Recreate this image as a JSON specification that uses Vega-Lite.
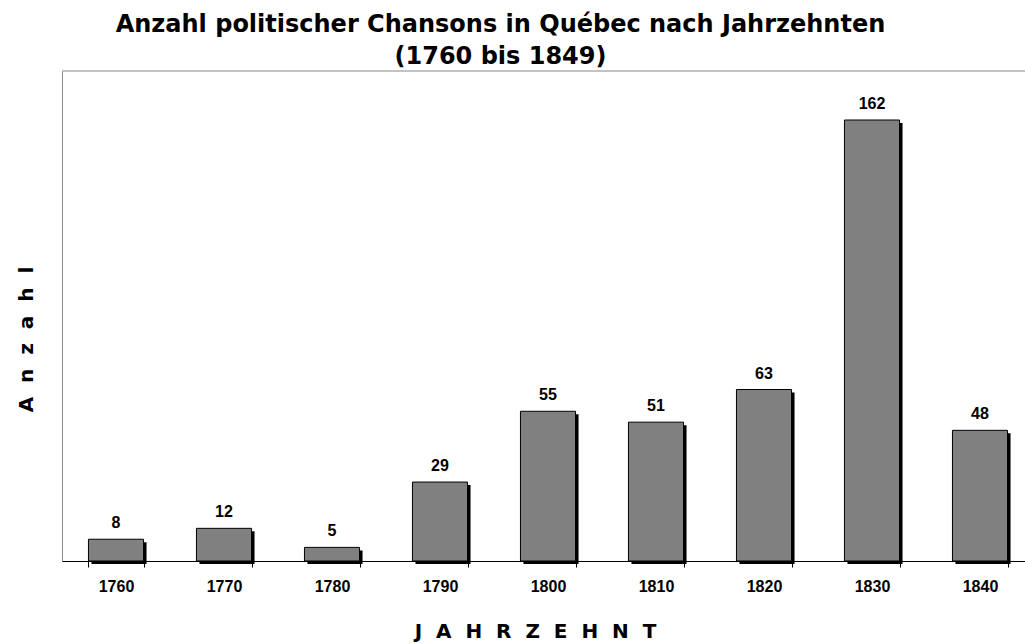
{
  "$schema": "https://vega.github.io/schema/vega-lite/v6.json",
  "autosize": {"type": "none"},
  "padding": {"left": 62, "top": 71, "right": 0, "bottom": 83},
  "width": 963,
  "height": 490,
  "background": "white",
  "title": {
    "text": ["Anzahl politischer Chansons in Québec nach Jahrzehnten", "(1760 bis 1849)"],
    "anchor": "middle",
    "frame": "group",
    "font": "DejaVu Sans",
    "fontSize": 24,
    "fontWeight": "bold",
    "color": "black",
    "lineHeight": 32,
    "offset": 2,
    "dx": -43
  },
  "config": {
    "view": {"stroke": null}
  },
  "data": {
    "values": [
      {"decade": "1760", "count": 8},
      {"decade": "1770", "count": 12},
      {"decade": "1780", "count": 5},
      {"decade": "1790", "count": 29},
      {"decade": "1800", "count": 55},
      {"decade": "1810", "count": 51},
      {"decade": "1820", "count": 63},
      {"decade": "1830", "count": 162},
      {"decade": "1840", "count": 48}
    ]
  },
  "encoding": {
    "x": {
      "field": "decade",
      "type": "nominal",
      "sort": null,
      "scale": {"range": [0, 972], "paddingInner": 0.49, "paddingOuter": 0.245},
      "axis": {
        "title": "J\u00a0\u00a0A\u00a0\u00a0H\u00a0\u00a0R\u00a0\u00a0Z\u00a0\u00a0E\u00a0\u00a0H\u00a0\u00a0N\u00a0\u00a0T",
        "titleFont": "DejaVu Sans",
        "titleFontSize": 20,
        "titleFontWeight": "bold",
        "titleColor": "black",
        "titleX": 473,
        "titleY": 76,
        "titleAnchor": null,
        "titleAlign": "center",
        "titleBaseline": "alphabetic",
        "labelFont": "Liberation Sans",
        "labelFontSize": 16,
        "labelFontWeight": "bold",
        "labelColor": "black",
        "labelAngle": 0,
        "labelPadding": 11,
        "labelBaseline": "top",
        "tickBand": "extent",
        "tickSize": 6,
        "tickColor": "black",
        "domainColor": "black",
        "grid": false,
        "zindex": 1
      }
    },
    "y": {
      "field": "count",
      "type": "quantitative",
      "scale": {"domain": [0, 180], "nice": false},
      "axis": {
        "title": "A\u00a0\u00a0n\u00a0\u00a0z\u00a0\u00a0a\u00a0\u00a0h\u00a0\u00a0l",
        "titleFont": "DejaVu Sans",
        "titleFontSize": 20,
        "titleFontWeight": "bold",
        "titleColor": "black",
        "titleAngle": 270,
        "titleX": -30,
        "titleY": 268,
        "titleAlign": "center",
        "titleBaseline": "alphabetic",
        "labels": false,
        "ticks": false,
        "domain": true,
        "domainColor": "#888888",
        "grid": false
      }
    }
  },
  "layer": [
    {
      "data": {"values": [{"top": 180}]},
      "mark": {"type": "rule", "color": "#888888", "strokeWidth": 1},
      "encoding": {"x": null, "y": {"field": "top", "type": "quantitative"}}
    },
    {
      "mark": {"type": "bar", "color": "black", "xOffset": 3, "yOffset": 3, "y2Offset": 0}
    },
    {
      "mark": {"type": "bar", "fill": "#808080", "stroke": "black", "strokeWidth": 1}
    },
    {
      "mark": {"type": "text", "font": "Liberation Sans", "fontSize": 16, "fontWeight": "bold", "color": "black", "baseline": "alphabetic", "dy": -11},
      "encoding": {"text": {"field": "count", "type": "quantitative"}}
    }
  ]
}
